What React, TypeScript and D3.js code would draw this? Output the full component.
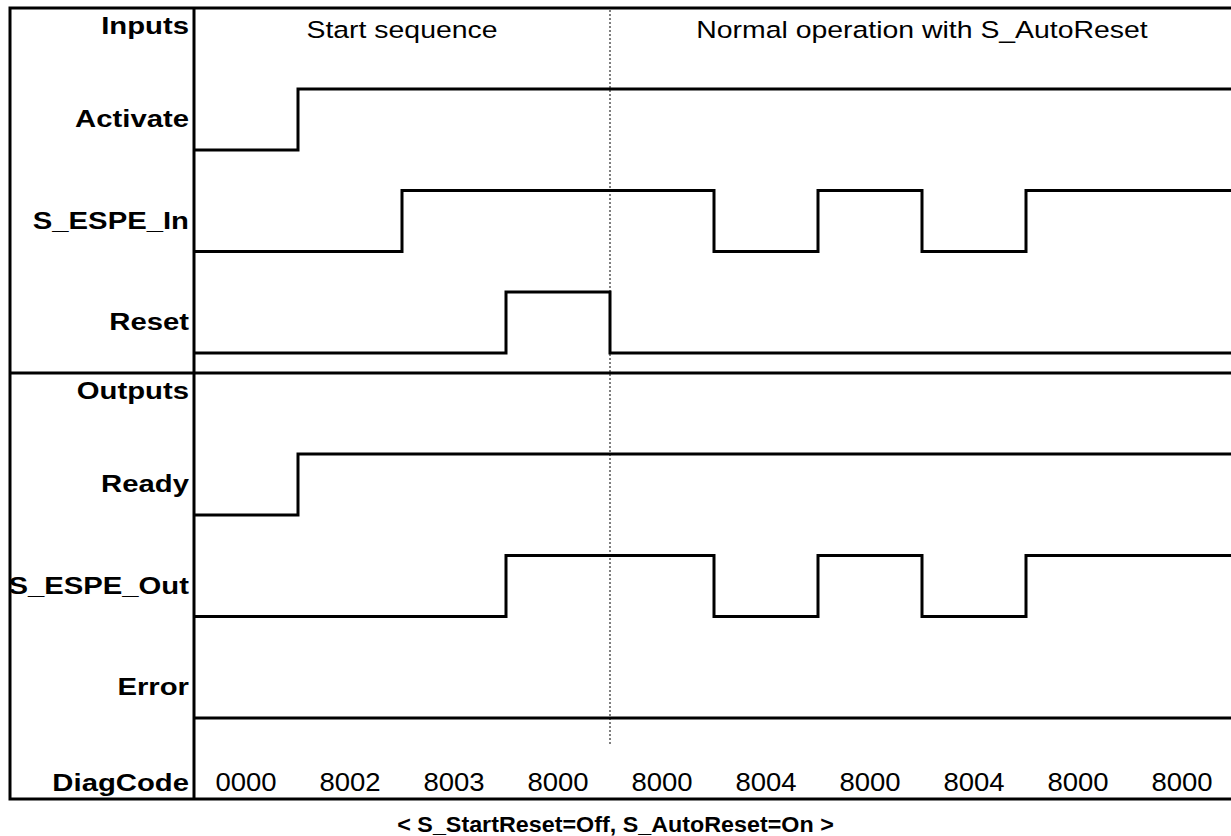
import React from "react";
import * as d3 from "d3";

// ---- data ----
const inputNames = ["Activate", "S_ESPE_In", "Reset"];
const inputValues = [
  [0, 1, 1, 1, 1, 1, 1, 1, 1, 1],
  [0, 0, 1, 1, 1, 0, 1, 0, 1, 1],
  [0, 0, 0, 1, 0, 0, 0, 0, 0, 0],
];
const outputNames = ["Ready", "S_ESPE_Out", "Error"];
const outputValues = [
  [0, 1, 1, 1, 1, 1, 1, 1, 1, 1],
  [0, 0, 0, 1, 1, 0, 1, 0, 1, 1],
  [0, 0, 0, 0, 0, 0, 0, 0, 0, 0],
];
const diagCodes = ["0000", "8002", "8003", "8000", "8000", "8004", "8000", "8004", "8000", "8000"];
const phases = [
  { label: "Start sequence", from: 0, to: 4 },
  { label: "Normal operation with S_AutoReset", from: 4, to: 10 },
];
const phaseBoundary = 4;
const caption = "< S_StartReset=Off, S_AutoReset=On >";

// ---- layout ----
const W = 1231;
const H = 836;
const boxLeft = 10;
const boxTop = 8;
const boxBottom = 799;
const labelCol = 194;
const sectionDivider = 373;
const labelRight = 189;
const SX = 1.22;

const x = d3.scaleLinear().domain([0, 10]).range([labelCol, 1234]);
const inLane = d3.scaleLinear().domain([0, 1]).range([150, 251.5]);
const outLane = d3.scaleLinear().domain([0, 1]).range([515, 616.5]);
const levelH = 61;

const font = "'Liberation Sans', Arial, sans-serif";

function Label({ xPos, y, text, bold = true, size = 24, anchor = "end", sx = SX }: any) {
  return (
    <text
      transform={`translate(${xPos},${y}) scale(${sx},1)`}
      textAnchor={anchor}
      fontFamily={font}
      fontWeight={bold ? "bold" : "normal"}
      fontSize={size}
      fill="#000"
    >
      {text}
    </text>
  );
}

function Signal({ values, base }: { values: number[]; base: number }) {
  const y = d3.scaleLinear().domain([0, 1]).range([base, base - levelH]);
  const pts: [number, number][] = values.map((v, i) => [i, v]);
  pts.push([values.length, values[values.length - 1]]);
  const line = d3
    .line<[number, number]>()
    .x((d) => x(d[0]))
    .y((d) => y(d[1]))
    .curve(d3.curveStepAfter);
  return <path d={line(pts) || ""} fill="none" stroke="#000" strokeWidth={3} strokeLinejoin="miter" />;
}

export default function App() {
  return (
    <svg
      width={W}
      height={H}
      style={{ position: "absolute", left: 0, top: 0, background: "#fff", display: "block" }}
    >
      <defs>
        <clipPath id="labelClip">
          <rect x={boxLeft + 1} y={0} width={labelCol - boxLeft} height={H} />
        </clipPath>
      </defs>
      <rect x={0} y={0} width={W} height={H} fill="#fff" />

      {/* phase divider */}
      <line
        x1={x(phaseBoundary)}
        x2={x(phaseBoundary)}
        y1={boxTop + 2}
        y2={745}
        stroke="#555"
        strokeWidth={1.5}
        strokeDasharray="2,2"
      />

      {/* phase headers */}
      {phases.map((p) => (
        <Label
          key={p.label}
          xPos={(x(p.from) + x(p.to)) / 2}
          y={38}
          text={p.label}
          bold={false}
          size={24.5}
          anchor="middle"
          sx={1.16}
        />
      ))}

      {/* row labels */}
      <g clipPath="url(#labelClip)">
        <Label xPos={labelRight} y={34} text="Inputs" />
        <Label xPos={labelRight} y={399} text="Outputs" />
        {inputNames.map((n, i) => (
          <Label key={n} xPos={labelRight} y={inLane(i) - 23} text={n} />
        ))}
        {outputNames.map((n, i) => (
          <Label key={n} xPos={labelRight} y={outLane(i) - 23} text={n} />
        ))}
        <Label xPos={labelRight} y={791} text="DiagCode" />
      </g>

      {inputNames.map((n, i) => (
        <Signal key={n} values={inputValues[i]} base={inLane(i)} />
      ))}
      {outputNames.map((n, i) => (
        <Signal key={n} values={outputValues[i]} base={outLane(i)} />
      ))}

      {diagCodes.map((c, i) => (
        <Label
          key={i}
          xPos={(x(i) + x(i + 1)) / 2}
          y={791}
          text={c}
          bold={false}
          size={25}
          anchor="middle"
          sx={1.1}
        />
      ))}

      {/* frame */}
      <rect
        x={boxLeft}
        y={boxTop}
        width={1234 - boxLeft}
        height={boxBottom - boxTop}
        fill="none"
        stroke="#000"
        strokeWidth={3}
      />
      <line x1={labelCol} x2={labelCol} y1={boxTop} y2={boxBottom} stroke="#000" strokeWidth={3} />
      <line x1={boxLeft} x2={1234} y1={sectionDivider} y2={sectionDivider} stroke="#000" strokeWidth={3} />

      {/* caption */}
      <Label xPos={W / 2} y={832} text={caption} bold size={22} anchor="middle" sx={1.06} />
    </svg>
  );
}
